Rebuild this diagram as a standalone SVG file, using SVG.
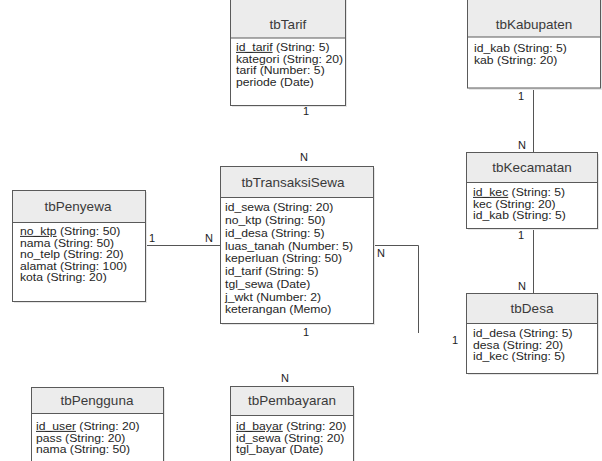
<svg xmlns="http://www.w3.org/2000/svg" width="602" height="461" viewBox="0 0 602 461">
<style>
.sh{fill:#e6e6e6}
.body{fill:#ffffff;stroke:#5a5a5a;stroke-width:1}
.hdr{fill:#ececec;stroke:#5a5a5a;stroke-width:1}
.h{font-family:"Liberation Sans",Arial,sans-serif;font-size:13.5px;fill:#3a3a3a;text-anchor:middle}
.a{font-family:"Liberation Sans",Arial,sans-serif;font-size:10px;fill:#262626}
.pk{text-decoration:underline}
.lbl{font-family:"Liberation Sans",Arial,sans-serif;font-size:11px;fill:#222}
.conn{stroke:#555;stroke-width:1;fill:none}
</style>
<rect width="602" height="461" fill="#ffffff"/>
<g id="connectors">
<path class="conn" d="M533.5,88 V152"/>
<path class="conn" d="M533.5,228 V293"/>
<path class="conn" d="M145,245.5 H220"/>
<path class="conn" d="M373,245.5 H418.5 V333"/>
<text class="lbl" x="518" y="100">1</text>
<text class="lbl" x="518" y="149">N</text>
<text class="lbl" x="518" y="239">1</text>
<text class="lbl" x="518" y="290">N</text>
<text class="lbl" x="149" y="242">1</text>
<text class="lbl" x="205" y="242">N</text>
<text class="lbl" x="377" y="257">N</text>
<text class="lbl" x="452" y="344">1</text>
<text class="lbl" x="303" y="115">1</text>
<text class="lbl" x="300" y="161">N</text>
<text class="lbl" x="303" y="336">1</text>
<text class="lbl" x="281" y="382">N</text>
</g>
<g id="tbTarif">
<rect class="sh" x="232" y="-5" width="115" height="112"/>
<rect class="body" x="230.5" y="-5" width="115" height="110.5"/>
<rect class="hdr" x="230.5" y="-5" width="115" height="43"/>
<text class="h" x="288" y="29">tbTarif</text>
<g transform="translate(236,0) scale(1.22,1)">
<text class="a" x="0" y="51"><tspan class="pk">id_tarif</tspan> (String: 5)</text>
<text class="a" x="0" y="62.6">kategori (String: 20)</text>
<text class="a" x="0" y="74.2">tarif (Number: 5)</text>
<text class="a" x="0" y="85.8">periode (Date)</text>
</g>
</g>
<g id="tbKabupaten">
<rect class="sh" x="469" y="-5" width="133" height="95"/>
<rect class="body" x="467.5" y="-5" width="133" height="93"/>
<rect class="hdr" x="467.5" y="-5" width="133" height="42"/>
<text class="h" x="534" y="29">tbKabupaten</text>
<g transform="translate(474,0) scale(1.22,1)">
<text class="a" x="0" y="52">id_kab (String: 5)</text>
<text class="a" x="0" y="63.6">kab (String: 20)</text>
</g>
</g>
<g id="tbKecamatan">
<rect class="sh" x="468" y="154" width="131" height="76"/>
<rect class="body" x="466.5" y="152.5" width="131" height="76"/>
<rect class="hdr" x="466.5" y="152.5" width="131" height="30"/>
<text class="h" x="532" y="172">tbKecamatan</text>
<g transform="translate(473,0) scale(1.22,1)">
<text class="a" x="0" y="196"><tspan class="pk">id_kec</tspan> (String: 5)</text>
<text class="a" x="0" y="207.6">kec (String: 20)</text>
<text class="a" x="0" y="219.2">id_kab (String: 5)</text>
</g>
</g>
<g id="tbDesa">
<rect class="sh" x="468" y="295" width="131" height="80"/>
<rect class="body" x="466.5" y="293.5" width="131" height="80"/>
<rect class="hdr" x="466.5" y="293.5" width="131" height="30"/>
<text class="h" x="532" y="313">tbDesa</text>
<g transform="translate(473,0) scale(1.22,1)">
<text class="a" x="0" y="337">id_desa (String: 5)</text>
<text class="a" x="0" y="348.6">desa (String: 20)</text>
<text class="a" x="0" y="360.2">id_kec (String: 5)</text>
</g>
</g>
<g id="tbTransaksiSewa">
<rect class="sh" x="222" y="168" width="153" height="157"/>
<rect class="body" x="220.5" y="166.5" width="153" height="157"/>
<rect class="hdr" x="220.5" y="166.5" width="153" height="31"/>
<text class="h" x="293" y="187">tbTransaksiSewa</text>
<g transform="translate(225,0) scale(1.22,1)">
<text class="a" x="0" y="211.5">id_sewa (String: 20)</text>
<text class="a" x="0" y="224.25">no_ktp (String: 50)</text>
<text class="a" x="0" y="237">id_desa (String: 5)</text>
<text class="a" x="0" y="249.75">luas_tanah (Number: 5)</text>
<text class="a" x="0" y="262.5">keperluan (String: 50)</text>
<text class="a" x="0" y="275.25">id_tarif (String: 5)</text>
<text class="a" x="0" y="288">tgl_sewa (Date)</text>
<text class="a" x="0" y="300.75">j_wkt (Number: 2)</text>
<text class="a" x="0" y="313.5">keterangan (Memo)</text>
</g>
</g>
<g id="tbPenyewa">
<rect class="sh" x="14" y="192" width="133" height="111"/>
<rect class="body" x="12.5" y="190.5" width="133" height="111"/>
<rect class="hdr" x="12.5" y="190.5" width="133" height="32"/>
<text class="h" x="78" y="211">tbPenyewa</text>
<g transform="translate(20,0) scale(1.22,1)">
<text class="a" x="0" y="235"><tspan class="pk">no_ktp</tspan> (String: 50)</text>
<text class="a" x="0" y="246.6">nama (String: 50)</text>
<text class="a" x="0" y="258.2">no_telp (String: 20)</text>
<text class="a" x="0" y="269.8">alamat (String: 100)</text>
<text class="a" x="0" y="281.4">kota (String: 20)</text>
</g>
</g>
<g id="tbPengguna">
<rect class="sh" x="33" y="389" width="132" height="80"/>
<rect class="body" x="31.5" y="387.5" width="132" height="80"/>
<rect class="hdr" x="31.5" y="387.5" width="132" height="26"/>
<text class="h" x="97" y="405">tbPengguna</text>
<g transform="translate(36,0) scale(1.22,1)">
<text class="a" x="0" y="430"><tspan class="pk">id_user</tspan> (String: 20)</text>
<text class="a" x="0" y="441.6">pass (String: 20)</text>
<text class="a" x="0" y="453.2">nama (String: 50)</text>
</g>
</g>
<g id="tbPembayaran">
<rect class="sh" x="232" y="388" width="123" height="80"/>
<rect class="body" x="230.5" y="386.5" width="123" height="80"/>
<rect class="hdr" x="230.5" y="386.5" width="123" height="29"/>
<text class="h" x="292" y="405">tbPembayaran</text>
<g transform="translate(236,0) scale(1.22,1)">
<text class="a" x="0" y="430"><tspan class="pk">id_bayar</tspan> (String: 20)</text>
<text class="a" x="0" y="441.6">id_sewa (String: 20)</text>
<text class="a" x="0" y="453.2">tgl_bayar (Date)</text>
</g>
</g>
</svg>
